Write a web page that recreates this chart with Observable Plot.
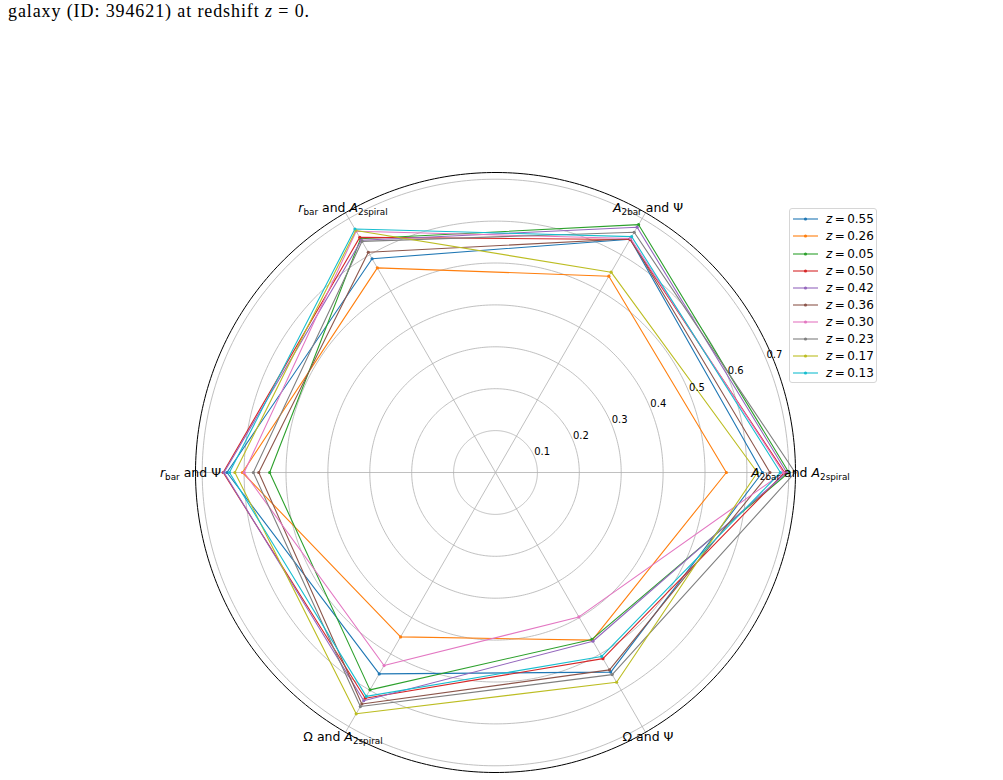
<!DOCTYPE html>
<html>
<head>
<meta charset="utf-8">
<script src="https://cdn.jsdelivr.net/npm/d3@7"></script>
<script src="https://cdn.jsdelivr.net/npm/@observablehq/plot@0.6"></script>
<style>
  body { margin: 0; background: #fff; }
  #wrap { position: relative; width: 1003px; height: 780px; overflow: hidden; font-family: "DejaVu Sans", sans-serif; }
  #chart { position: absolute; left: 0; top: 0; }
  #caption { position: absolute; left: 8px; top: 1px; font-family: "Liberation Serif", serif; font-size: 18px; color: #000; white-space: nowrap; }
  #legend { position: absolute; left: 789px; top: 208px; width: 88px; height: 175px; border: 1px solid #d6d6d6; border-radius: 3px; background: rgba(255,255,255,0.8); box-sizing: border-box; font-size: 12px; color: #000; }
  .row { position: absolute; left: 0; height: 17px; display: flex; align-items: center; white-space: nowrap; }
  .row svg { display: block; margin-left: 3px; margin-right: 8px; }
</style>
</head>
<body>
<div id="wrap">
  <div id="chart"></div>
  <div id="caption">galaxy (ID: 394621) at redshift <i>z</i> = 0.</div>
  <div id="legend"></div>
</div>
<script>
// ---- data ----
const axisLabels = [
  "A_{2bar} and A_{2spiral}",
  "A_{2bar} and Ψ",
  "r_{bar} and A_{2spiral}",
  "r_{bar} and Ψ",
  "Ω and A_{2spiral}",
  "Ω and Ψ"
];
const seriesNames = ["0.55", "0.26", "0.05", "0.50", "0.42", "0.36", "0.30", "0.23", "0.17", "0.13"];
const seriesColors = ["#1f77b4", "#ff7f0e", "#2ca02c", "#d62728", "#9467bd", "#8c564b", "#e377c2", "#7f7f7f", "#bcbd22", "#17becf"];

const z055 = [0.637, 0.643, 0.589, 0.641, 0.555, 0.550];
const z026 = [0.551, 0.541, 0.564, 0.604, 0.453, 0.462];
const z005 = [0.700, 0.683, 0.644, 0.539, 0.599, 0.460];
const z050 = [0.690, 0.642, 0.648, 0.650, 0.622, 0.513];
const z042 = [0.695, 0.676, 0.640, 0.648, 0.629, 0.465];
const z036 = [0.655, 0.644, 0.607, 0.565, 0.638, 0.544];
const z030 = [0.687, 0.645, 0.665, 0.600, 0.532, 0.398];
const z023 = [0.715, 0.662, 0.637, 0.578, 0.645, 0.557];
const z017 = [0.625, 0.552, 0.667, 0.622, 0.665, 0.578];
const z013 = [0.680, 0.650, 0.671, 0.635, 0.617, 0.507];
const seriesValues = [z055, z026, z005, z050, z042, z036, z030, z023, z017, z013];

const ringValues = [0.1, 0.2, 0.3, 0.4, 0.5, 0.6, 0.7];
const ringLabels = ["0.1", "0.2", "0.3", "0.4", "0.5", "0.6", "0.7"];
const rMax = 0.716;

// ---- geometry helpers (polar -> lon/lat for azimuthal-equidistant centred on the pole) ----
const lonOf = (i) => 90 + 60 * i;      // 0° to the right, counter-clockwise
const latOf = (v) => 90 - v;            // radius in degrees from the pole

const points = [];
seriesValues.forEach((vals, s) => {
  vals.forEach((v, i) => points.push({z: seriesNames[s], axis: axisLabels[i], lon: lonOf(i), lat: latOf(v)}));
});

const circle = (r) => d3.geoCircle().center([0, 90]).radius(r).precision(1)();

const plot = Plot.plot({
  width: 1003,
  height: 780,
  marginLeft: 195,
  marginRight: 208,
  marginTop: 172,
  marginBottom: 8,
  projection: {type: "azimuthal-equidistant", rotate: [0, -90], domain: circle(rMax), clip: false},
  color: {domain: seriesNames, range: seriesColors},
  style: {fontFamily: "DejaVu Sans", fontSize: "12px", background: "white", overflow: "visible"},
  marks: [
    Plot.geo(ringValues, {geometry: (r) => circle(r), stroke: "#b0b0b0", strokeWidth: 0.8, fill: "none"}),
    Plot.link(axisLabels, {x1: (d, i) => lonOf(i), y1: 90, x2: (d, i) => lonOf(i), y2: latOf(rMax), stroke: "#b0b0b0", strokeWidth: 0.8}),
    Plot.line(points, {x: "lon", y: "lat", z: "z", stroke: "z", strokeWidth: 1.1, curve: "linear-closed"}),
    Plot.dot(points, {x: "lon", y: "lat", fill: "z", r: 1.6}),
    Plot.geo([rMax], {geometry: (r) => circle(r), stroke: "#000", strokeWidth: 1, fill: "none"}),
    Plot.text(ringLabels, {x: 112.5, y: (d, i) => latOf(ringValues[i]), text: (d) => d, textAnchor: "start", dy: -5, fontSize: 10, fill: "#000"}),
    Plot.text(axisLabels, {x: (d, i) => lonOf(i), y: latOf(0.728), text: (d) => d, textAnchor: "middle", fontSize: 12.5, fill: "#000"})
  ]
});
document.getElementById("chart").appendChild(plot);

// rich text for the axis labels: letter_{sub} -> italic letter + upright subscript
const NS = "http://www.w3.org/2000/svg";
function richify(el, s) {
  el.textContent = "";
  let shift = 0;
  const add = (txt, opt) => {
    const t = document.createElementNS(NS, "tspan");
    t.textContent = txt;
    if (opt.italic) t.setAttribute("font-style", "italic");
    const want = opt.sub ? 3 : 0;
    if (want !== shift) { t.setAttribute("dy", want - shift); shift = want; }
    if (opt.sub) t.setAttribute("font-size", "8.8px");
    el.appendChild(t);
  };
  const re = /([A-Za-z])_\{([^}]*)\}/g;
  let last = 0, m;
  while ((m = re.exec(s))) {
    if (m.index > last) add(s.slice(last, m.index), {});
    add(m[1], {italic: true});
    add(m[2], {sub: true});
    last = re.lastIndex;
  }
  if (last < s.length) add(s.slice(last), {});
}
const labelSet = new Set(axisLabels);
plot.querySelectorAll("text").forEach((el) => {
  const s = el.textContent;
  if (labelSet.has(s)) richify(el, s);
});

// caption width to match the reference line
const cap = document.getElementById("caption");
const w = cap.getBoundingClientRect().width;
const n = cap.textContent.length;
cap.style.letterSpacing = ((302 - w) / n) + "px";

// legend
const legend = document.getElementById("legend");
seriesNames.forEach((name, i) => {
  const row = document.createElement("div");
  row.className = "row";
  row.style.top = (1.8 + 17.1 * i) + "px";
  const sw = document.createElementNS(NS, "svg");
  sw.setAttribute("width", 25); sw.setAttribute("height", 10);
  const ln = document.createElementNS(NS, "line");
  ln.setAttribute("x1", 0); ln.setAttribute("x2", 25); ln.setAttribute("y1", 5); ln.setAttribute("y2", 5);
  ln.setAttribute("stroke", seriesColors[i]); ln.setAttribute("stroke-width", 1.1);
  const c = document.createElementNS(NS, "circle");
  c.setAttribute("cx", 12.5); c.setAttribute("cy", 5); c.setAttribute("r", 1.6); c.setAttribute("fill", seriesColors[i]);
  sw.appendChild(ln); sw.appendChild(c);
  row.appendChild(sw);
  const lab = document.createElement("span");
  lab.innerHTML = '<i>z</i>\u2009=\u20090' + name.slice(1);
  row.appendChild(lab);
  legend.appendChild(row);
});
</script>
</body>
</html>
